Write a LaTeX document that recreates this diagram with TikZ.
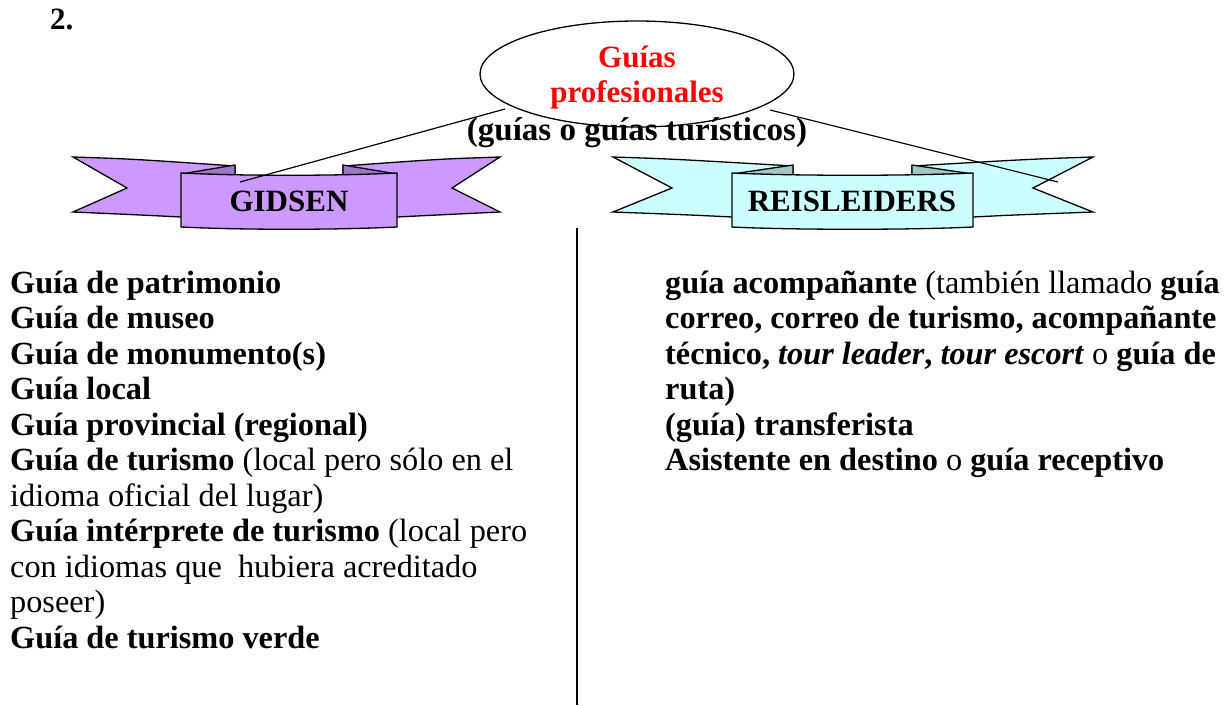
\documentclass[tikz,border=0pt]{standalone}
\usepackage{fontspec}
\setmainfont{Liberation Serif}
\usetikzlibrary{shapes.geometric}

\definecolor{lilac}{RGB}{204,153,255}
\definecolor{icecyan}{RGB}{204,255,255}
\definecolor{titlered}{RGB}{255,0,0}

\tikzset{
  big/.style={font=\fontsize{31}{35.5}\selectfont, inner sep=0pt},
  bigbold/.style={big, font=\fontsize{31}{35.5}\selectfont\bfseries},
  listtext/.style={font=\fontsize{32.3}{35.5}\selectfont, inner sep=0pt, align=left},
  ribline/.style={draw=black, line width=1.3pt, line join=miter},
  link/.style={line width=1.2pt},
}

% ribbon banner: x of left tip, left notch, box left, left fold,
% right fold, box right, right notch, right tip, fill colour
\newcommand{\banner}[9]{%
  \filldraw[ribline, fill=#9] (#1,157) .. controls (#1+60,159) .. (#4,166) -- (#4,200) -- (#3,217)
     .. controls (#3-40,215) .. (#1,212) -- (#2,188) -- cycle; % left tail
  \filldraw[ribline, fill=#9] (#8,157) .. controls (#8-60,159) .. (#5,166) -- (#5,200) -- (#6,217)
     .. controls (#6+40,215) .. (#8,212) -- (#7,188) -- cycle; % right tail
  \filldraw[ribline, fill=#9!78!black] (#3,174) -- (#4,165) -- (#4,175) -- cycle;
  \filldraw[ribline, fill=#9!78!black] (#6,174) -- (#5,165) -- (#5,175) -- cycle;
  \filldraw[ribline, fill=#9] (#3,173) .. controls (#3+60,176) and (#6-60,176) .. (#6,173)
     -- (#6,227) .. controls (#6-60,230) and (#3+60,230) .. (#3,227) -- cycle; % front
}

\begin{document}
\begin{tikzpicture}[x=1pt,y=-1pt]
\useasboundingbox (0,0) rectangle (1224,705);

\node[bigbold, anchor=base west] (num) at (50,29) {2.};

% top ellipse
\node[draw, ellipse, line width=1.3pt, fill=white, minimum width=314pt, minimum height=106pt]
  (guias) at (637,74) {};
\node[bigbold, text=titlered, anchor=base] (title1) at (637,67) {Guías};
\node[bigbold, text=titlered, anchor=base] (title2) at (637,102) {profesionales};
\node[bigbold, font=\fontsize{33}{35.5}\selectfont\bfseries, anchor=base] (alias) at (637,140)
  {(guías o guías turísticos)};

% the two banners
\banner{73}{127}{181}{235}{343}{397}{452}{500}{lilac}
\banner{613}{672}{732}{793}{912}{973}{1033}{1093}{icecyan}
\node[bigbold, anchor=base] (gidsen) at (289,211) {GIDSEN};
\node[bigbold, anchor=base] (reis) at (852,211) {REISLEIDERS};

% connectors
\coordinate (lstart) at (505,109);
\coordinate (lend) at (240,182);
\coordinate (rstart) at (770,110);
\coordinate (rend) at (1058,182);
\draw[link] (lstart) -- (lend);
\draw[link] (rstart) -- (rend);

% divider
\coordinate (divtop) at (577,228);
\coordinate (divbot) at (577,705);
\draw[line width=1.6pt] (divtop) -- (divbot);

% lists (base anchor = baseline of the last line)
\node[listtext, anchor=base west] (gidsenlist) at (10,648) {%
\textbf{Guía de patrimonio}\\
\textbf{Guía de museo}\\
\textbf{Guía de monumento(s)}\\
\textbf{Guía local}\\
\textbf{Guía provincial (regional)}\\
\textbf{Guía de turismo} (local pero sólo en el\\
idioma oficial del lugar)\\
\textbf{Guía intérprete de turismo} (local pero\\
con idiomas que\ \ hubiera acreditado\\
poseer)\\
\textbf{Guía de turismo verde}};

\node[listtext, anchor=base west] (reislist) at (665,470.5) {%
\textbf{guía acompañante} (también llamado \textbf{guía}\\
\textbf{correo, correo de turismo, acompañante}\\
\textbf{técnico, \textit{tour leader}, \textit{tour escort}} o \textbf{guía de}\\
\textbf{ruta)}\\
\textbf{(guía) transferista}\\
\textbf{Asistente en destino} o \textbf{guía receptivo}};

\end{tikzpicture}
\end{document}
